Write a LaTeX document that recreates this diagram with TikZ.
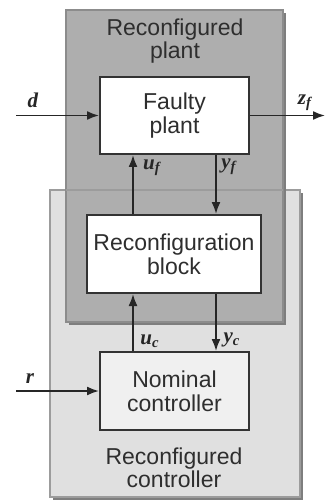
\documentclass[tikz,border=0pt]{standalone}
\usepackage{fontspec}
\setmainfont{Liberation Sans}
\newfontfamily\lblfont{Liberation Serif}
\usetikzlibrary{arrows.meta}
\definecolor{plantgray}{HTML}{AEAEAE}
\definecolor{plantedge}{HTML}{8C8C8C}
\definecolor{ctrlgray}{HTML}{E0E0E0}
\definecolor{ctrledge}{HTML}{9C9C9C}
\definecolor{shadowgray}{HTML}{7E7E7E}
\definecolor{nomfill}{HTML}{F0F0F0}
\definecolor{txtgray}{HTML}{2E2E2E}
\tikzset{
  blockbox/.style={draw=black!80, line width=1pt, minimum width=74.5pt, minimum height=38.5pt,
    align=center, font=\fontsize{11.5}{12}\selectfont, text=txtgray, inner sep=0pt},
  title/.style={align=center, font=\fontsize{11.5}{11.5}\selectfont, text=txtgray, inner sep=0pt},
  sig/.style={font=\lblfont\bfseries\itshape\fontsize{10.5}{10.5}\selectfont, inner sep=0pt, text=black!85},
  arr/.style={line width=0.9pt, draw=black!85, -{Latex[length=6pt,width=4.5pt]}}
}
\begin{document}
\begin{tikzpicture}[x=0.5pt,y=-0.5pt]
\useasboundingbox (0,0) rectangle (325,502);
% reconfigured controller (light)
\fill[shadowgray] (53,193) rectangle (303,500);
\fill[ctrlgray] (50,190) rectangle (300,497);
\draw[ctrledge, line width=0.8pt] (50,190) rectangle (300,497);
% reconfigured plant (dark)
\fill[shadowgray] (69,13) rectangle (286,325);
\fill[plantgray] (66,10) rectangle (283,322);
\draw[plantedge, line width=0.8pt] (66,10) rectangle (283,322);
% light box top edge crossing the dark one
\draw[ctrledge, line width=0.8pt] (66,190) -- (283,190);

\node[title] (ptitle) at (175,41) {Reconfigured\\plant};
\node[title] (ctitle) at (174,468) {Reconfigured\\controller};

\node[blockbox, fill=white] (faulty) at (174.5,115.5) {Faulty\\plant};
\node[blockbox, fill=white, minimum width=87pt, minimum height=39pt] (reconf) at (174,254) {Reconfiguration\\block};
\node[blockbox, fill=nomfill, minimum height=39pt] (nominal) at (174.5,391) {Nominal\\controller};

\coordinate (xl) at (133,0);
\coordinate (xr) at (216,0);
\coordinate (din) at (16,115.5);
\coordinate (zout) at (325,115.5);
\coordinate (rin) at (16,391);

\draw[arr] (din) -- (faulty.west);
\draw[arr] (faulty.east) -- (zout);
\draw[arr] (rin) -- (nominal.west);
\draw[arr] (reconf.north -| xl) -- (faulty.south -| xl);
\draw[arr] (faulty.south -| xr) -- (reconf.north -| xr);
\draw[arr] (nominal.north -| xl) -- (reconf.south -| xl);
\draw[arr] (reconf.south -| xr) -- (nominal.north -| xr);

\node[sig] (ld) at (33,100) {d};
\node[sig] (lz) at (305,103) {z\textsubscript{f}};
\node[sig] (lr) at (30,379) {r};
\node[sig] (luf) at (152,168) {u\textsubscript{f}};
\node[sig] (lyf) at (229,167) {y\textsubscript{f}};
\node[sig] (luc) at (150,341) {u\textsubscript{c}};
\node[sig] (lyc) at (232,340) {y\textsubscript{c}};
\end{tikzpicture}
\end{document}
